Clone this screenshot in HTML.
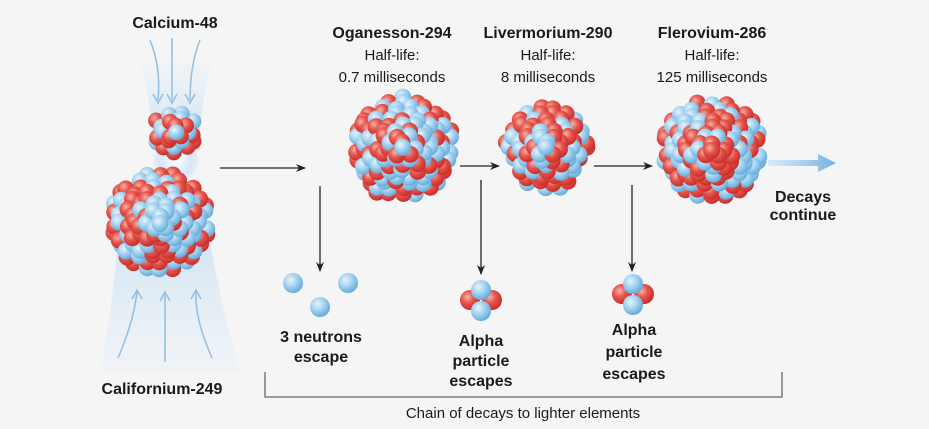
<!DOCTYPE html>
<html><head><meta charset="utf-8">
<style>
html,body{margin:0;padding:0;background:#f5f5f5;}
svg{display:block;}
text{font-family:"Liberation Sans",sans-serif;fill:#1a1a1a;text-anchor:middle;}
.b{font-weight:bold;font-size:16px;}
.r{font-size:15px;}
</style></head><body>
<svg id="s" width="929" height="429" viewBox="0 0 929 429" xmlns="http://www.w3.org/2000/svg">
<defs>
<radialGradient id="rd" cx="0.38" cy="0.35" r="0.7"><stop offset="0" stop-color="#f7b3a8"/><stop offset="0.45" stop-color="#e5544c"/><stop offset="1" stop-color="#c42a26"/></radialGradient>
<radialGradient id="bl" cx="0.38" cy="0.35" r="0.7"><stop offset="0" stop-color="#e6f4fc"/><stop offset="0.5" stop-color="#9fd0ef"/><stop offset="1" stop-color="#5fa6d6"/></radialGradient>
<linearGradient id="beamT" x1="0" y1="0" x2="0" y2="1"><stop offset="0" stop-color="#dbeaf6" stop-opacity="0"/><stop offset="1" stop-color="#c4ddf0" stop-opacity="0.9"/></linearGradient>
<linearGradient id="beamB" x1="0" y1="1" x2="0" y2="0"><stop offset="0" stop-color="#e4eff8" stop-opacity="0.3"/><stop offset="1" stop-color="#bcd9ef" stop-opacity="0.95"/></linearGradient>
<radialGradient id="flash"><stop offset="0" stop-color="#ffffff"/><stop offset="0.6" stop-color="#d6e9f7"/><stop offset="1" stop-color="#b8d7ee" stop-opacity="0"/></radialGradient>
<linearGradient id="ba" x1="0" y1="0" x2="1" y2="0"><stop offset="0" stop-color="#9fcbed" stop-opacity="0.3"/><stop offset="1" stop-color="#6fb0e4"/></linearGradient>
<marker id="ah" markerWidth="10" markerHeight="8" refX="9" refY="4" orient="auto" markerUnits="userSpaceOnUse"><path d="M0,0 L10,4 L0,8 L3,4 Z" fill="#222"/></marker>
</defs>
<path d="M138,50 C150,100 152,120 152,150 L200,150 C200,120 202,100 214,50 Z" fill="url(#beamT)"/>
<path d="M122,185 L200,185 C212,260 225,320 240,372 L100,372 C110,320 118,260 122,185 Z" fill="url(#beamB)"/>
<g stroke="#8fbfe3" stroke-width="1.5" fill="none">
<path d="M150,40 C158,60 160,80 158,100"/><path d="M153,94 L158,103 L163,94"/>
<path d="M172,38 L172,100"/><path d="M167,94 L172,103 L177,94"/>
<path d="M200,40 C192,60 190,80 190,100"/><path d="M185,94 L190,103 L195,94"/>
<path d="M118,358 C130,330 135,310 137,292"/><path d="M132,299 L137,290 L142,299"/>
<path d="M165,362 L165,294"/><path d="M160,301 L165,292 L170,301"/>
<path d="M212,358 C200,330 195,310 196,292"/><path d="M191,299 L196,290 L201,299"/>
</g>
<circle cx="176" cy="160" r="24" fill="url(#flash)"/>
<g id="balls"></g>
<text class="b" x="175" y="28">Calcium-48</text>
<text class="b" x="162" y="394">Californium-249</text>
<text class="b" x="392" y="38">Oganesson-294</text>
<text class="r" x="392" y="60">Half-life:</text>
<text class="r" x="392" y="82">0.7 milliseconds</text>
<text class="b" x="548" y="38">Livermorium-290</text>
<text class="r" x="548" y="60">Half-life:</text>
<text class="r" x="548" y="82">8 milliseconds</text>
<text class="b" x="712" y="38">Flerovium-286</text>
<text class="r" x="712" y="60">Half-life:</text>
<text class="r" x="712" y="82">125 milliseconds</text>
<text class="b" x="803" y="202">Decays</text>
<text class="b" x="803" y="220">continue</text>
<text class="b" x="321" y="342">3 neutrons</text>
<text class="b" x="321" y="362">escape</text>
<text class="b" x="481" y="346">Alpha</text>
<text class="b" x="481" y="366">particle</text>
<text class="b" x="481" y="386">escapes</text>
<text class="b" x="634" y="335">Alpha</text>
<text class="b" x="634" y="357">particle</text>
<text class="b" x="634" y="379">escapes</text>
<text class="r" x="523" y="418">Chain of decays to lighter elements</text>
<g stroke="#222" stroke-width="1.3" fill="none">
<line x1="220" y1="168" x2="305" y2="168" marker-end="url(#ah)"/>
<line x1="460" y1="166" x2="499" y2="166" marker-end="url(#ah)"/>
<line x1="594" y1="166" x2="652" y2="166" marker-end="url(#ah)"/>
<line x1="320" y1="186" x2="320" y2="271" marker-end="url(#ah)"/>
<line x1="481" y1="180" x2="481" y2="274" marker-end="url(#ah)"/>
<line x1="632" y1="185" x2="632" y2="271" marker-end="url(#ah)"/>
<path d="M265,372 L265,397 L782,397 L782,372" stroke="#666"/>
</g>
<path d="M768,160 L818,160 L818,154 L836,163 L818,172 L818,166 L768,166 Z" fill="url(#ba)"/>
</svg>
<script>
(function(){
var g=document.getElementById('balls'),NS='http://www.w3.org/2000/svg';
var seed=11;function rnd(){seed=(seed*16807)%2147483647;return seed/2147483647;}
function ball(x,y,r,c){var e=document.createElementNS(NS,'circle');e.setAttribute('cx',x.toFixed(1));e.setAttribute('cy',y.toFixed(1));e.setAttribute('r',r);e.setAttribute('fill',c?'url(#rd)':'url(#bl)');g.appendChild(e);}
function nucleus(cx,cy,R,br){
 var pts=[];var s=br*1.55;
 for(var L=0;L<2;L++){
  var ox=L*s/2,oy=L*s*0.43;
  for(var j=-20;j<=20;j++){for(var i=-20;i<=20;i++){
   var x=cx+ox+i*s+(j%2?s/2:0)+(rnd()-0.5)*3,y=cy+oy+j*s*0.866+(rnd()-0.5)*3;
   var d=Math.hypot(x-cx,y-cy);
   if(d<=R-br*0.9)pts.push([x,y,rnd()<0.55,d]);
  }}
 }
 pts.sort(function(p,q){return q[3]-p[3];});
 pts.forEach(function(p){ball(p[0],p[1],br,p[2]);});
}
nucleus(175,131,29,8);
nucleus(160,222,57,8.5);
nucleus(403,148,59,8.5);
nucleus(547,148,49,8.5);
nucleus(712,150,57,8.5);
ball(293,283,10,false);ball(348,283,10,false);ball(320,307,10,false);
ball(470,300,10,true);ball(492,300,10,true);ball(481,290,10,false);ball(481,311,10,false);
ball(622,294,10,true);ball(644,294,10,true);ball(633,284,10,false);ball(633,305,10,false);
})();
</script>
</body></html>
